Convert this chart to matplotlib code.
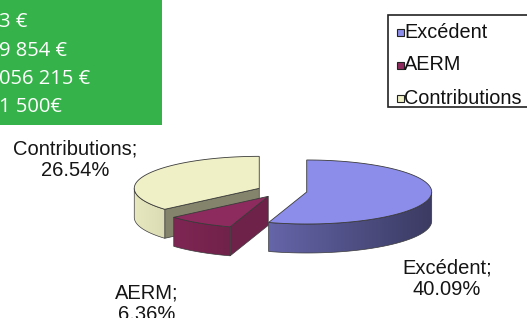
import numpy as np
import matplotlib
matplotlib.use("Agg")
import matplotlib.pyplot as plt
from matplotlib.patches import Polygon, Rectangle
from matplotlib.colors import to_rgb

# data
labels = ["Excédent", "AERM", "Contributions"]
shares = [40.09, 6.36, 26.54]
top_colors = ["#8c8ceb", "#8e2b5e", "#f0f0c6"]
box_lines = ["3 €", "9 854 €", "056 215 €", "1 500€"]

W, H = 527, 318
fig = plt.figure(figsize=(W / 100, H / 100), dpi=100)
ax = fig.add_axes([0, 0, 1, 1])

# green info box, cut at the left edge
ax.add_patch(Rectangle((-5, -5), 167, 130, color="#35b34a", lw=0))
for i, s in enumerate(box_lines):
    ax.text(-1, 22 + i * 28.5, s, color="white", fontsize=14.5, family="Open Sans",
            va="center", ha="left")

# 3d pie drawn by hand (pixel coords, y down)
cx, cy = 282, 191
rx, ry = 125, 32
depth = 29
explode = 0.2
edge = "#3a3a3a"


def shade(c, f):
    r, g, b = to_rgb(c)
    return (r * f, g * f, b * f)


def pt(x0, y0, a):
    a = np.radians(a)
    return x0 + rx * np.cos(a), y0 - ry * np.sin(a)


total = sum(shares)
angles = []
start = 90.0
for v in shares:
    span = 360.0 * v / total
    angles.append((start - span, start))
    start -= span

xl, xr = cx - rx * (1 + explode), cx + rx * (1 + explode)

order = [2, 1, 0]
for i in order:
    a1, a2 = angles[i]
    mid = (a1 + a2) / 2
    ox = cx + explode * rx * np.cos(np.radians(mid))
    oy = cy - explode * ry * np.sin(np.radians(mid))
    col = top_colors[i]

    # radial side faces
    for a, n in [(a1, a1 - 90), (a2, a2 + 90)]:
        if np.sin(np.radians(n)) < -0.05:
            px, py = pt(ox, oy, a)
            f = 0.55 if i == 2 else 0.78
            ax.add_patch(Polygon([(ox, oy), (px, py), (px, py + depth), (ox, oy + depth)],
                                 closed=True, fc=shade(col, f), ec=edge, lw=0.5, zorder=2))

    # outer curved side, only the front half, shaded left to right
    lo, hi = a1 % 360, a2 % 360
    if hi <= lo:
        hi += 360
    ts = np.linspace(lo, hi, 300)
    vis = ts[(np.sin(np.radians(ts)) <= 0.001)]
    if len(vis) > 1:
        xs, ys = zip(*[pt(ox, oy, t) for t in vis])
        xs, ys = np.array(xs), np.array(ys)
        side = list(zip(xs, ys)) + list(zip(xs[::-1], ys[::-1] + depth))
        sp = Polygon(side, closed=True, fc="none", ec=edge, lw=0.5, zorder=3)
        ax.add_patch(sp)
        gx = np.linspace(xl, xr, 256)
        fac = 0.97 - 0.55 * (gx - xl) / (xr - xl)
        grad = np.array([[shade(col, f) for f in fac]])
        im = ax.imshow(grad, extent=(xl, xr, 300, 100), aspect="auto",
                       interpolation="bilinear", zorder=2)
        im.set_clip_path(sp)

    # top face
    ts = np.linspace(a1, a2, 150)
    poly = [(ox, oy)] + [pt(ox, oy, t) for t in ts]
    ax.add_patch(Polygon(poly, closed=True, fc=col, ec=edge, lw=0.6, zorder=4))

# data labels
label_pos = [(447, 279), (147, 304), (75, 160)]
for lab, v, (x, y) in zip(labels, shares, label_pos):
    ax.text(x, y, f"{lab};\n{v:.2f}%", ha="center", va="center", fontsize=14.5,
            family="Liberation Sans", color="#151515", linespacing=1.15)

# legend
ax.add_patch(Rectangle((388, 15), 160, 92, fc="white", ec="#222222", lw=1.2, zorder=5))
for i, lab in enumerate(labels):
    y = 32 + i * 33
    ax.add_patch(Rectangle((397, y - 3.5), 7, 7, fc=top_colors[i], ec="#222222",
                           lw=0.8, zorder=6))
    ax.text(404, y, lab, ha="left", va="center", fontsize=14.3,
            family="Liberation Sans", color="#111111", zorder=6)

ax.set_xlim(0, W)
ax.set_ylim(H, 0)
ax.axis("off")
fig.savefig("out.png", dpi=100)
